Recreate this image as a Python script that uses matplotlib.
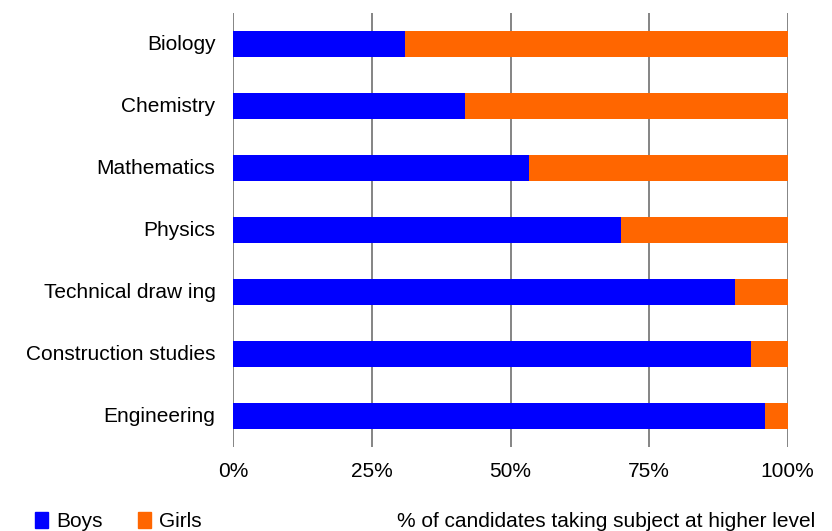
import matplotlib.pyplot as plt
from matplotlib.patches import Patch

plt.rcParams["font.family"] = ["Liberation Sans", "DejaVu Sans"]

subjects = ["Biology", "Chemistry", "Mathematics", "Physics",
            "Technical draw ing", "Construction studies", "Engineering"]
boys = [30.9, 41.8, 53.3, 69.9, 90.5, 93.4, 95.9]
girls = [100 - b for b in boys]

BLUE = "#0000ff"
ORANGE = "#ff6600"

fig = plt.figure(figsize=(8.32, 5.31), dpi=100)
ax = fig.add_axes([0.2806, 0.158, 0.6662, 0.8175])

pos = list(range(len(subjects)))
ax.barh(pos, boys, height=0.43, color=BLUE, zorder=2)
ax.barh(pos, girls, left=boys, height=0.43, color=ORANGE, zorder=2)

ax.set_ylim(len(subjects) - 0.5, -0.5)
ax.set_xlim(0, 100)
ax.set_xticks([0, 25, 50, 75, 100])
ax.set_xticklabels(["0%", "25%", "50%", "75%", "100%"])
ax.set_yticks([p - 0.03 for p in pos])
ax.set_yticklabels(subjects)
ax.tick_params(axis="both", length=0, labelsize=15, colors="black")
ax.tick_params(axis="x", pad=11)
ax.tick_params(axis="y", pad=13)

ax.grid(axis="x", color="#707070", linewidth=1.2, zorder=1)
for s in ["top", "right", "bottom", "left"]:
    ax.spines[s].set_visible(False)

fig.text(0.98, 0.0, "% of candidates taking subject at higher level",
         ha="right", va="bottom", fontsize=15)

handles = [Patch(color=BLUE, label="Boys"), Patch(color=ORANGE, label="Girls")]
fig.legend(handles=handles, loc="lower left", bbox_to_anchor=(0.02, -0.035),
           ncol=2, frameon=False, fontsize=15, handlelength=0.6,
           handleheight=0.8, handletextpad=0.4, columnspacing=1.7)

fig.savefig("out.png", dpi=100)
